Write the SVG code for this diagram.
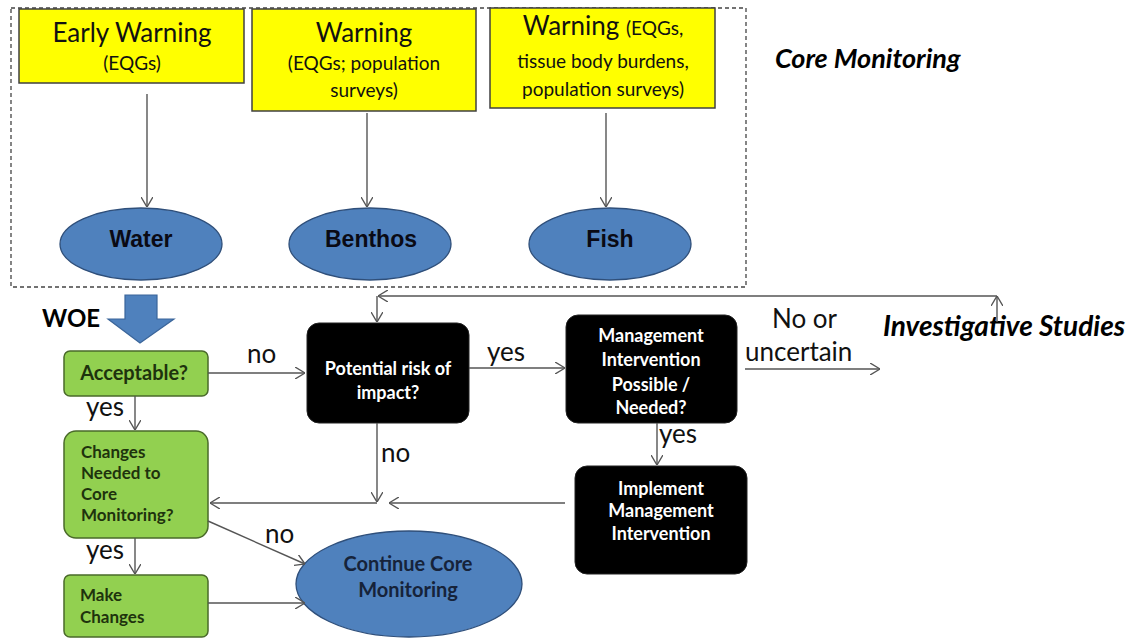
<svg xmlns="http://www.w3.org/2000/svg" width="1133" height="639" viewBox="0 0 1133 639">
<defs>
<marker id="ah" viewBox="0 0 10 12" refX="10" refY="6" markerWidth="10" markerHeight="12" markerUnits="userSpaceOnUse" orient="auto">
<path d="M0,0 L10,6 L0,12" fill="none" stroke="#555" stroke-width="1.4"/>
</marker>
<style>
.yel{fill:#ffff00;stroke:#404040;stroke-width:1.5}
.ell{fill:#4f81bd;stroke:#2f4f7a;stroke-width:1.3}
.grn{fill:#92d050;stroke:#4a6a2a;stroke-width:1.5}
.blk{fill:#000;stroke:#222;stroke-width:1}
.con{fill:none;stroke:#555;stroke-width:1.4}
.lbl{font-family:Lato,"Liberation Sans",sans-serif;font-size:26px;fill:#111}
.big{font-family:Lato,"Liberation Sans",sans-serif;font-size:26px;fill:#111;text-anchor:middle}
.sub{font-family:Lato,"Liberation Sans",sans-serif;font-size:19px;fill:#111;text-anchor:middle}
.elt{font-family:"Liberation Sans",Arial,sans-serif;font-weight:bold;font-size:23px;fill:#0a0a14;text-anchor:middle}
.gtx{font-family:Lato,"Liberation Sans",sans-serif;font-weight:bold;font-size:17px;fill:#1e330d}
.wtx{font-family:Lato,"Liberation Sans",sans-serif;font-weight:bold;font-size:18px;fill:#fff;text-anchor:middle}
.hdr{font-family:Lato,"Liberation Sans",sans-serif;font-weight:bold;font-style:italic;font-size:28px;fill:#000}
</style>
</defs>
<rect width="1133" height="639" fill="#fff"/>

<g id="core-monitoring-frame">
<rect x="11" y="8" width="735" height="279" fill="none" stroke="#444" stroke-width="1.3" stroke-dasharray="4 3"/>
<text class="hdr" x="775" y="68" style="font-size:27px">Core Monitoring</text>
</g>

<g id="early-warning">
<rect class="yel" x="19" y="9" width="225" height="74"/>
<text class="big" x="132" y="42">Early Warning</text>
<text class="sub" x="132" y="70">(EQGs)</text>
</g>
<g id="warning-benthos">
<rect class="yel" x="252" y="9" width="224" height="102"/>
<text class="big" x="364" y="42">Warning</text>
<text class="sub" x="364" y="70">(EQGs; population</text>
<text class="sub" x="364" y="97">surveys)</text>
</g>
<g id="warning-fish">
<rect class="yel" x="490" y="8" width="225" height="100"/>
<text class="big" x="603" y="35">Warning <tspan style="font-size:19px">(EQGs,</tspan></text>
<text class="sub" x="603" y="68">tissue body burdens,</text>
<text class="sub" x="603" y="96">population surveys)</text>
</g>

<g id="water"><ellipse class="ell" cx="141" cy="244" rx="81" ry="36"/><text class="elt" x="141" y="247">Water</text></g>
<g id="benthos"><ellipse class="ell" cx="370" cy="244" rx="81" ry="36"/><text class="elt" x="371" y="247">Benthos</text></g>
<g id="fish"><ellipse class="ell" cx="610" cy="244" rx="81" ry="36"/><text class="elt" x="610" y="247">Fish</text></g>

<g id="woe">
<path d="M125,295 H157 V319 H174 L140,343 L108,319 H125 Z" fill="#4f81bd" stroke="#3a659a" stroke-width="1.2"/>
<text x="42" y="327" style="font-family:Lato,'Liberation Sans',sans-serif;font-weight:bold;font-size:24px;fill:#000">WOE</text>
</g>

<g id="acceptable">
<rect class="grn" x="64" y="351" width="144" height="45" rx="6"/>
<text class="gtx" x="134" y="380" style="font-size:20px;text-anchor:middle">Acceptable?</text>
</g>
<g id="changes-needed">
<rect class="grn" x="64" y="431" width="144" height="107" rx="12"/>
<text class="gtx" x="81" y="458">Changes</text>
<text class="gtx" x="81" y="479">Needed to</text>
<text class="gtx" x="81" y="500">Core</text>
<text class="gtx" x="81" y="521">Monitoring?</text>
</g>
<g id="make-changes">
<rect class="grn" x="64" y="575" width="144" height="62" rx="6"/>
<text class="gtx" x="80" y="601">Make</text>
<text class="gtx" x="80" y="623">Changes</text>
</g>
<g id="continue-core">
<ellipse class="ell" cx="409" cy="584" rx="113" ry="53"/>
<text x="408" y="571" style="font-family:Lato,'Liberation Sans',sans-serif;font-weight:bold;font-size:20px;fill:#16233a;text-anchor:middle">Continue Core</text>
<text x="408" y="597" style="font-family:Lato,'Liberation Sans',sans-serif;font-weight:bold;font-size:20px;fill:#16233a;text-anchor:middle">Monitoring</text>
</g>
<g id="potential-risk">
<rect class="blk" x="307" y="323" width="162" height="100" rx="12"/>
<text class="wtx" x="388" y="375">Potential risk of</text>
<text class="wtx" x="388" y="399">impact?</text>
</g>
<g id="management-intervention">
<rect class="blk" x="566" y="315" width="171" height="108" rx="12"/>
<text class="wtx" x="651" y="342">Management</text>
<text class="wtx" x="651" y="366">Intervention</text>
<text class="wtx" x="651" y="391">Possible /</text>
<text class="wtx" x="651" y="414">Needed?</text>
</g>
<g id="implement">
<rect class="blk" x="575" y="466" width="172" height="108" rx="12"/>
<text class="wtx" x="661" y="495">Implement</text>
<text class="wtx" x="661" y="517">Management</text>
<text class="wtx" x="661" y="540">Intervention</text>
</g>
<g id="investigative">
<text class="hdr" x="883" y="336">Investigative Studies</text>
</g>

<g id="connectors">
<line class="con" x1="147" y1="94" x2="147" y2="207" marker-end="url(#ah)"/>
<line class="con" x1="367" y1="113" x2="367" y2="207" marker-end="url(#ah)"/>
<line class="con" x1="606" y1="113" x2="606" y2="207" marker-end="url(#ah)"/>
<line class="con" x1="208" y1="373" x2="305" y2="373" marker-end="url(#ah)"/>
<line class="con" x1="135" y1="396" x2="135" y2="430" marker-end="url(#ah)"/>
<line class="con" x1="135" y1="538" x2="135" y2="574" marker-end="url(#ah)"/>
<line class="con" x1="208" y1="521" x2="305" y2="564" marker-end="url(#ah)"/>
<line class="con" x1="208" y1="603" x2="305" y2="603" marker-end="url(#ah)"/>
<line class="con" x1="377" y1="423" x2="377" y2="502" marker-end="url(#ah)"/>
<line class="con" x1="377" y1="503" x2="210" y2="503" marker-end="url(#ah)"/>
<line class="con" x1="565" y1="503" x2="389" y2="503" marker-end="url(#ah)"/>
<line class="con" x1="469" y1="368" x2="565" y2="368" marker-end="url(#ah)"/>
<line class="con" x1="657" y1="423" x2="657" y2="465" marker-end="url(#ah)"/>
<line class="con" x1="745" y1="369" x2="880" y2="369" marker-end="url(#ah)"/>
<line class="con" x1="997" y1="322" x2="997" y2="296" marker-end="url(#ah)"/>
<line class="con" x1="997" y1="296" x2="378" y2="296" marker-end="url(#ah)"/>
<line class="con" x1="377" y1="296" x2="377" y2="322" marker-end="url(#ah)"/>
<text class="lbl" x="247" y="363">no</text>
<text class="lbl" x="86" y="416">yes</text>
<text class="lbl" x="86" y="559">yes</text>
<text class="lbl" x="265" y="543">no</text>
<text class="lbl" x="381" y="462">no</text>
<text class="lbl" x="487" y="361">yes</text>
<text class="lbl" x="659" y="443">yes</text>
<text class="lbl" x="772" y="328">No or</text>
<text class="lbl" x="745" y="361">uncertain</text>
</g>
</svg>
